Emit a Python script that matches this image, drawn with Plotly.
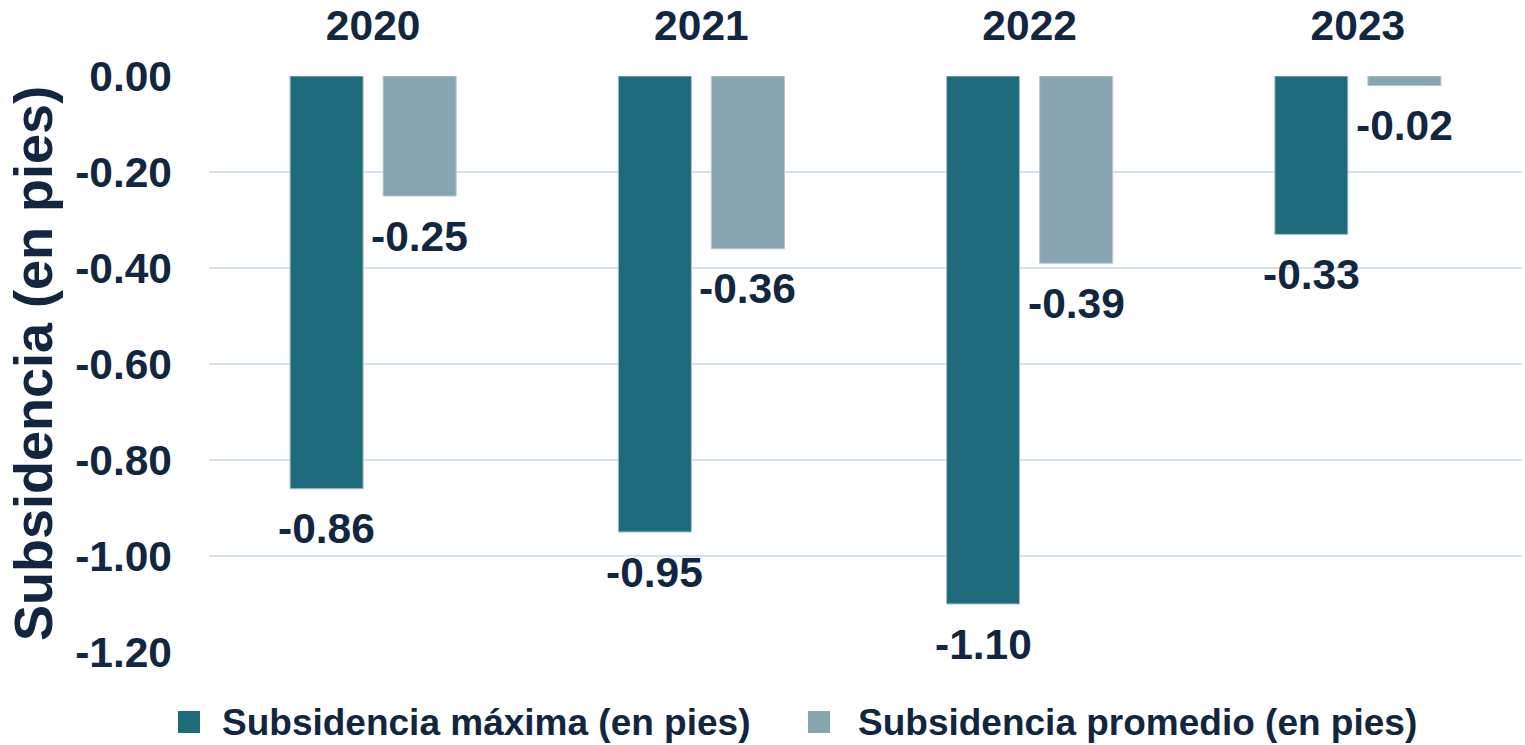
import plotly.graph_objects as go

years = ["2020", "2021", "2022", "2023"]
max_subs = [-0.86, -0.95, -1.10, -0.33]
avg_subs = [-0.25, -0.36, -0.39, -0.02]
max_name = "Subsidencia máxima (en pies)"
avg_name = "Subsidencia promedio (en pies)"
y_ticks = [0, -0.2, -0.4, -0.6, -0.8, -1.0, -1.2]
y_title = "Subsidencia (en pies)"

TXT = "#12263F"
FONT = "Liberation Sans"
C_MAX = "#1F6B7C"
C_AVG = "#88A6B0"
NUM_SIZE = 42.5

W, H = 1525, 745
ML, MR, MT, MB = 209, 3, 76, 93
PW, PH = W - ML - MR, H - MT - MB

BARGAP = 0.433
BARGROUPGAP = 0.215
slot = (1 - BARGAP) / 2  # category units per bar slot


def px(xp):
    return (xp - ML) / PW


def py(yp):
    return (MT + PH - yp) / PH


fig = go.Figure()
for name, vals, col, lcol in [(max_name, max_subs, C_MAX, "#A9C2CA"),
                              (avg_name, avg_subs, C_AVG, "#B5C8CE")]:
    fig.add_trace(go.Bar(
        x=years, y=vals, name=name, showlegend=False,
        marker=dict(color=col, line=dict(color=lcol, width=1)),
    ))

annotations = []
# data labels under each bar
for k, vals in enumerate([max_subs, avg_subs]):
    off = (k - 0.5) * slot
    for i, v in enumerate(vals):
        annotations.append(dict(
            x=i + off, y=v, xref="x", yref="y", text=f"{v:.2f}",
            showarrow=False, xanchor="center", yanchor="middle", yshift=-40,
            font=dict(family=FONT, size=NUM_SIZE, color=TXT, weight="bold"),
        ))

# y axis title
annotations.append(dict(
    text=y_title, xref="paper", yref="paper", x=px(33), y=0.5,
    textangle=-90, showarrow=False, xanchor="center", yanchor="middle",
    font=dict(family=FONT, size=54, color=TXT, weight="bold"),
))

# manual legend
shapes = []
leg_y = py(722)
for name, col, mx0, tx in [(max_name, C_MAX, 178, 220), (avg_name, C_AVG, 808, 856)]:
    shapes.append(dict(
        type="rect", xref="paper", yref="paper",
        x0=px(mx0), x1=px(mx0 + 22),
        y0=leg_y - 11 / PH, y1=leg_y + 11 / PH,
        fillcolor=col, line=dict(width=0),
    ))
    annotations.append(dict(
        text=name, xref="paper", yref="paper", x=px(tx), y=leg_y,
        xanchor="left", yanchor="middle", showarrow=False,
        font=dict(family=FONT, size=37, color=TXT, weight="bold"),
    ))

fig.update_layout(
    width=W, height=H,
    margin=dict(l=ML, r=MR, t=MT, b=MB),
    paper_bgcolor="white", plot_bgcolor="white",
    barmode="group", bargap=BARGAP, bargroupgap=BARGROUPGAP,
    font=dict(family=FONT, color=TXT),
    showlegend=False,
    xaxis=dict(
        side="top", range=[-0.5, 3.5], showgrid=False, zeroline=False,
        showline=False, ticks="", ticklabelstandoff=27, automargin=False,
        tickfont=dict(family=FONT, size=NUM_SIZE, color=TXT, weight="bold"),
    ),
    yaxis=dict(
        range=[-1.2, 0], tickvals=y_ticks,
        ticktext=[f"{v:.2f}" for v in y_ticks],
        showgrid=True, gridcolor="#D3E1F1", gridwidth=2,
        zeroline=False, showline=False, ticks="", ticklabelstandoff=36,
        automargin=False,
        tickfont=dict(family=FONT, size=NUM_SIZE, color=TXT, weight="bold"),
    ),
    annotations=annotations,
    shapes=shapes,
)

fig.write_html("out.html", config={"displayModeBar": False},
               post_script="document.body.style.margin='0';")
